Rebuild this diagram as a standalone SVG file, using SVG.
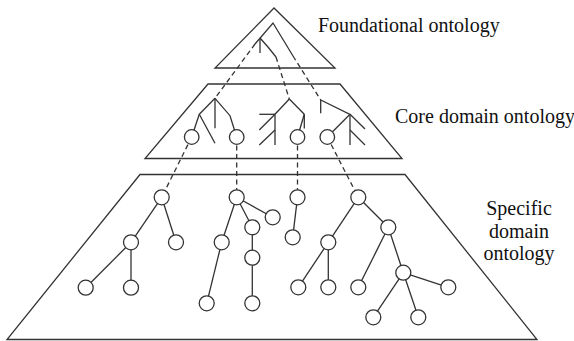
<svg xmlns="http://www.w3.org/2000/svg" width="574" height="341" viewBox="0 0 574 341">
<style>
.frame{fill:none;stroke:#333;stroke-width:1.3;stroke-linejoin:miter}
.edge{fill:none;stroke:#333;stroke-width:1.3}
.dash{fill:none;stroke:#333;stroke-width:1.3;stroke-dasharray:5,3.5}
.node circle{fill:#fff;stroke:#333;stroke-width:1.3}
.lbl{font-family:"Liberation Serif","Times New Roman",serif;font-size:20px;fill:#111}
</style>
<rect width="574" height="341" fill="#fff"/>
<g id="layers">
<polygon class="frame" points="274,8 215,68 335,68"/>
<polygon class="frame" points="208,84 340,84 402,158.5 145,158.5"/>
<polygon class="frame" points="140,174.5 405,174.5 537,339.5 7,339.5"/>
</g>
<g id="connectors">
<!-- foundational tree -->
<polyline class="edge" points="255,44 273,23 293,56"/>
<line class="edge" x1="260" y1="38" x2="260" y2="53"/>
<polyline class="edge" points="260,38 268,47 276,57"/>
<line class="dash" x1="255" y1="44" x2="215" y2="98.3"/>
<line class="dash" x1="276" y1="57" x2="289.3" y2="99"/>
<line class="dash" x1="293" y1="56" x2="320.7" y2="100"/>
<!-- core tree 1 -->
<line class="edge" x1="215" y1="98.3" x2="199.3" y2="114.3"/>
<line class="edge" x1="215" y1="98.3" x2="215" y2="128.3"/>
<polyline class="edge" points="215,98.3 230,115.7 236.7,137"/>
<line class="edge" x1="199.3" y1="114.3" x2="191.7" y2="137"/>
<line class="edge" x1="199.3" y1="114.3" x2="215" y2="143.3"/>
<!-- core tree 2 -->
<line class="edge" x1="289.3" y1="99" x2="275" y2="114.3"/>
<line class="edge" x1="259.3" y1="114.3" x2="275" y2="114.3"/>
<line class="edge" x1="275" y1="114.3" x2="275" y2="145"/>
<line class="edge" x1="275" y1="114.3" x2="259.3" y2="130"/>
<line class="edge" x1="275" y1="130" x2="259.3" y2="145"/>
<line class="edge" x1="289.3" y1="99" x2="304.3" y2="114.3"/>
<line class="edge" x1="304.3" y1="114.3" x2="304.3" y2="128.5"/>
<line class="edge" x1="304.3" y1="114.3" x2="297.5" y2="137"/>
<!-- core tree 3 -->
<polyline class="edge" points="320.7,113.3 320.7,100 350,114.3 350,145"/>
<line class="edge" x1="350" y1="114.3" x2="327.3" y2="137"/>
<line class="edge" x1="350" y1="114.3" x2="365" y2="129"/>
<line class="edge" x1="350" y1="130" x2="365" y2="145"/>
<!-- core to specific -->
<line class="dash" x1="191.7" y1="137" x2="161.7" y2="197.3"/>
<line class="dash" x1="236.7" y1="137" x2="236.7" y2="197.3"/>
<line class="dash" x1="297.5" y1="137" x2="297.5" y2="197.3"/>
<line class="dash" x1="327.3" y1="137" x2="358.3" y2="197.3"/>
<!-- specific trees -->
<line class="edge" x1="161.7" y1="197.3" x2="131" y2="242.3"/>
<line class="edge" x1="161.7" y1="197.3" x2="176" y2="242.3"/>
<line class="edge" x1="131" y1="242.3" x2="85.7" y2="287.7"/>
<line class="edge" x1="131" y1="242.3" x2="131" y2="287.7"/>
<line class="edge" x1="236.7" y1="197.3" x2="221.7" y2="242.3"/>
<line class="edge" x1="236.7" y1="197.3" x2="252.3" y2="227.3"/>
<line class="edge" x1="236.7" y1="197.3" x2="272.7" y2="217.3"/>
<line class="edge" x1="221.7" y1="242.3" x2="206.7" y2="303.3"/>
<line class="edge" x1="252.3" y1="227.3" x2="252.3" y2="303.3"/>
<line class="edge" x1="297.5" y1="197.3" x2="292.7" y2="237.3"/>
<line class="edge" x1="358.3" y1="197.3" x2="328.3" y2="242.3"/>
<line class="edge" x1="358.3" y1="197.3" x2="388.3" y2="227.3"/>
<line class="edge" x1="328.3" y1="242.3" x2="298.3" y2="287.3"/>
<line class="edge" x1="328.3" y1="242.3" x2="328.3" y2="287.3"/>
<line class="edge" x1="388.3" y1="227.3" x2="358.3" y2="287.3"/>
<line class="edge" x1="388.3" y1="227.3" x2="403.3" y2="272.7"/>
<line class="edge" x1="403.3" y1="272.7" x2="373.3" y2="317.3"/>
<line class="edge" x1="403.3" y1="272.7" x2="418.3" y2="317.3"/>
<line class="edge" x1="403.3" y1="272.7" x2="448.3" y2="287.3"/>
</g>
<g id="core-nodes" class="node">
<g id="c1"><circle cx="191.7" cy="137" r="7.3"/></g>
<g id="c2"><circle cx="236.7" cy="137" r="7.3"/></g>
<g id="c3"><circle cx="297.5" cy="137" r="7.3"/></g>
<g id="c4"><circle cx="327.3" cy="137" r="7.3"/></g>
</g>
<g id="specific-nodes" class="node">
<g id="a"><circle cx="161.7" cy="197.3" r="7.5"/></g>
<g id="a1"><circle cx="131" cy="242.3" r="7.5"/></g>
<g id="a2"><circle cx="176" cy="242.3" r="7.5"/></g>
<g id="a11"><circle cx="85.7" cy="287.7" r="7.5"/></g>
<g id="a12"><circle cx="131" cy="287.7" r="7.5"/></g>
<g id="b"><circle cx="236.7" cy="197.3" r="7.5"/></g>
<g id="b1"><circle cx="221.7" cy="242.3" r="7.5"/></g>
<g id="b2"><circle cx="252.3" cy="227.3" r="7.5"/></g>
<g id="b3"><circle cx="272.7" cy="217.3" r="7.5"/></g>
<g id="b11"><circle cx="206.7" cy="303.3" r="7.5"/></g>
<g id="b21"><circle cx="252.3" cy="257.7" r="7.5"/></g>
<g id="b211"><circle cx="252.3" cy="303.3" r="7.5"/></g>
<g id="c"><circle cx="297.5" cy="197.3" r="7.5"/></g>
<g id="c1s"><circle cx="292.7" cy="237.3" r="7.5"/></g>
<g id="d"><circle cx="358.3" cy="197.3" r="7.5"/></g>
<g id="d1"><circle cx="328.3" cy="242.3" r="7.5"/></g>
<g id="d2"><circle cx="388.3" cy="227.3" r="7.5"/></g>
<g id="d11"><circle cx="298.3" cy="287.3" r="7.5"/></g>
<g id="d12"><circle cx="328.3" cy="287.3" r="7.5"/></g>
<g id="d21"><circle cx="358.3" cy="287.3" r="7.5"/></g>
<g id="d22"><circle cx="403.3" cy="272.7" r="7.5"/></g>
<g id="d221"><circle cx="373.3" cy="317.3" r="7.5"/></g>
<g id="d222"><circle cx="418.3" cy="317.3" r="7.5"/></g>
<g id="d223"><circle cx="448.3" cy="287.3" r="7.5"/></g>
</g>
<g id="labels">
<text class="lbl" x="318" y="32">Foundational ontology</text>
<text class="lbl" x="395" y="123">Core domain ontology</text>
<text class="lbl" x="519" y="215" text-anchor="middle">Specific</text>
<text class="lbl" x="519" y="237.5" text-anchor="middle">domain</text>
<text class="lbl" x="519" y="260" text-anchor="middle">ontology</text>
</g>
</svg>
